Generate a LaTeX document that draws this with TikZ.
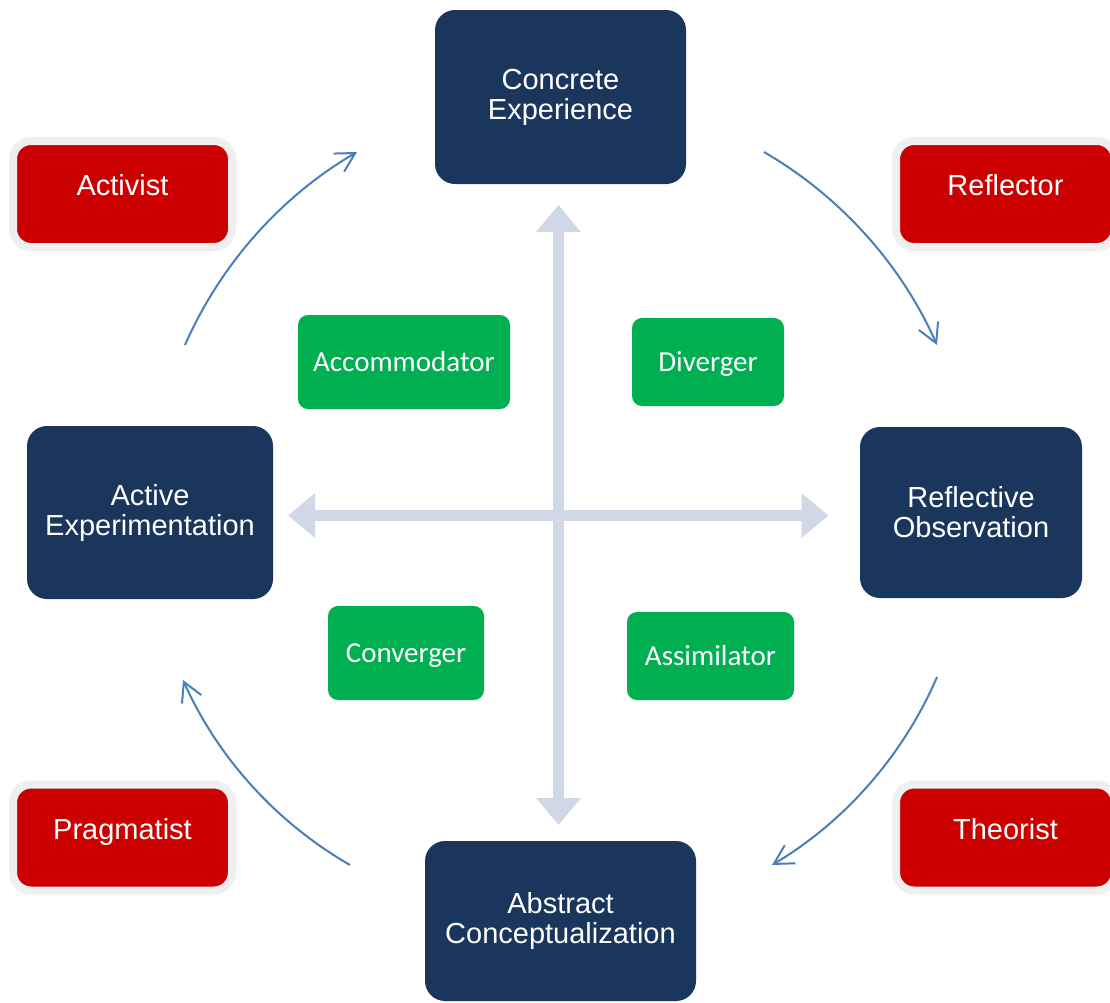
\documentclass[tikz,border=0pt]{standalone}
\usepackage{fontspec}
\setmainfont{Liberation Sans}
\newfontfamily\carlitofont{Carlito}
\usetikzlibrary{arrows.meta}
\definecolor{navy}{HTML}{1A365D}
\definecolor{redbox}{HTML}{CC0000}
\definecolor{greenbox}{HTML}{00B050}
\definecolor{ringgray}{HTML}{EFEFEF}
\definecolor{crossgray}{HTML}{D0D7E6}
\definecolor{cycblue}{HTML}{4A7EBB}
\tikzset{
  stage/.style={rectangle, rounded corners=20pt, fill=navy, draw=none, inner sep=0pt,
    text=white, align=center, font=\fontsize{29}{30}\selectfont,
    execute at begin node={\rule{0pt}{27pt}}},
  learner/.style={rectangle, rounded corners=18pt, fill=redbox, draw=ringgray, line width=8pt,
    inner sep=0pt, minimum width=219pt, minimum height=106pt, text=white,
    text height=21pt, text depth=18pt, font=\fontsize{29}{30}\selectfont},
  styletag/.style={rectangle, rounded corners=10pt, fill=greenbox, draw=none, inner sep=0pt,
    text=white, text height=18.5pt, text depth=0pt, font=\carlitofont\fontsize{29}{30}\selectfont},
  crossarrow/.style={draw=crossgray, line width=11pt,
    {Triangle[length=27pt,width=43pt]}-{Triangle[length=27pt,width=43pt]}},
  cyc/.style={draw=cycblue, line width=2pt, bend left=18, looseness=0.87,
    -{Straight Barb[length=19pt,width=21pt,line width=2pt]}}
}
\begin{document}
\begin{tikzpicture}[x=1pt,y=-1pt]
\useasboundingbox (0,0) rectangle (1110,1002);
\clip (0,0) rectangle (1110,1002);
\fill[white] (0,0) rectangle (1110,1002);

% cross arrows
\coordinate (vt) at (558.5,205);
\coordinate (vb) at (558.5,825);
\coordinate (hl) at (288,515.5);
\coordinate (hr) at (828.5,515.5);
\draw[crossarrow] (vt) -- (vb);
\draw[crossarrow] (hl) -- (hr);

% stages
\node[stage, minimum width=251pt, minimum height=174pt] (ce) at (560.5,97) {Concrete\\Experience};
\node[stage, minimum width=222pt, minimum height=171pt] (ro) at (971,512.5) {Reflective\\Observation};
\node[stage, minimum width=271pt, minimum height=160pt] (ac) at (560.5,921) {Abstract\\Conceptualization};
\node[stage, minimum width=246pt, minimum height=173pt] (ae) at (150,512.5) {Active\\Experimentation};

% learner types
\node[learner] (activist) at (122.5,194) {Activist};
\node[learner] (reflector) at (1005.5,194) {Reflector};
\node[learner] (pragmatist) at (122.5,837.5) {Pragmatist};
\node[learner] (theorist) at (1005.5,837.5) {Theorist};

% learning styles
\node[styletag, minimum width=212pt, minimum height=94pt] (accom) at (404,362) {Accommodator};
\node[styletag, minimum width=152pt, minimum height=88pt] (diver) at (708,362) {Diverger};
\node[styletag, minimum width=156pt, minimum height=94pt] (conv) at (406,653) {Converger};
\node[styletag, minimum width=167pt, minimum height=88pt] (assim) at (710.5,656) {Assimilator};

% cycle arrows
\coordinate (s1) at (185,345);
\coordinate (e1) at (357,152);
\coordinate (s2) at (764,152);
\coordinate (e2) at (937,345);
\coordinate (s3) at (937,677);
\coordinate (e3) at (772,865);
\coordinate (s4) at (350,865);
\coordinate (e4) at (183,680);
\draw[cyc] (s1) to (e1);
\draw[cyc] (s2) to (e2);
\draw[cyc] (s3) to (e3);
\draw[cyc] (s4) to (e4);
\end{tikzpicture}
\end{document}
